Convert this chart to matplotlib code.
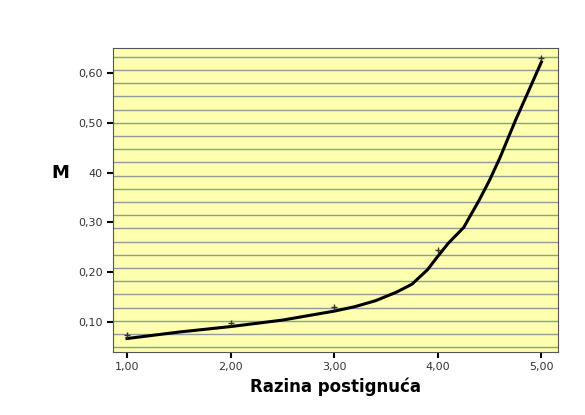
import numpy as np
import matplotlib
matplotlib.use("Agg")
import matplotlib.pyplot as plt

px = [1, 2, 3, 4, 5]
py = [0.075, 0.098, 0.130, 0.245, 0.630]
cx = [1.0, 1.5, 2.0, 2.5, 3.0, 3.2, 3.4, 3.6, 3.75, 3.9, 4.0, 4.1, 4.25, 4.4, 4.5, 4.6, 4.75, 4.9, 5.0]
cy = [0.067, 0.080, 0.091, 0.104, 0.122, 0.131, 0.143, 0.160, 0.176, 0.205, 0.232, 0.258, 0.290, 0.345, 0.385, 0.430, 0.505, 0.575, 0.622]
xticks = [1, 2, 3, 4, 5]
xlabels = ["1,00", "2,00", "3,00", "4,00", "5,00"]
yticks = [0.1, 0.2, 0.3, 0.4, 0.5, 0.6]
ylabels = ["0,10", "0,20", "0,30", "40", "0,50", "0,60"]

fig = plt.figure(figsize=(5.85, 4.15), dpi=100)
ax = fig.add_axes([113/585, 1-352/415, 445/585, 304/415])
ax.set_facecolor("#ffffb0")
ax.set_xlim(0.865, 5.16)
ax.set_ylim(0.04, 0.65)
for g in np.arange(0.50 - 0.0265*17, 0.65, 0.0265):
    ax.axhline(g, color="#8d9c96", lw=1.0, zorder=1)
ax.plot(cx, cy, color="black", lw=2.2, zorder=3, solid_joinstyle="round")
ax.plot(px, py, "+", color="#333333", ms=5, mew=1, zorder=4)
ax.set_xticks(xticks)
ax.set_xticklabels(xlabels, fontsize=8, color="#333333")
ax.set_yticks(yticks)
ax.set_yticklabels(ylabels, fontsize=8, color="#333333")
ax.tick_params(width=1.5, length=4)
for s in ax.spines.values():
    s.set_color("#555555")
ax.set_xlabel("Razina postignuća", fontsize=12, fontweight="bold")
fig.text(60/585, 1-173/415, "M", fontsize=13, fontweight="bold", ha="center", va="center")
fig.savefig("out.png")
